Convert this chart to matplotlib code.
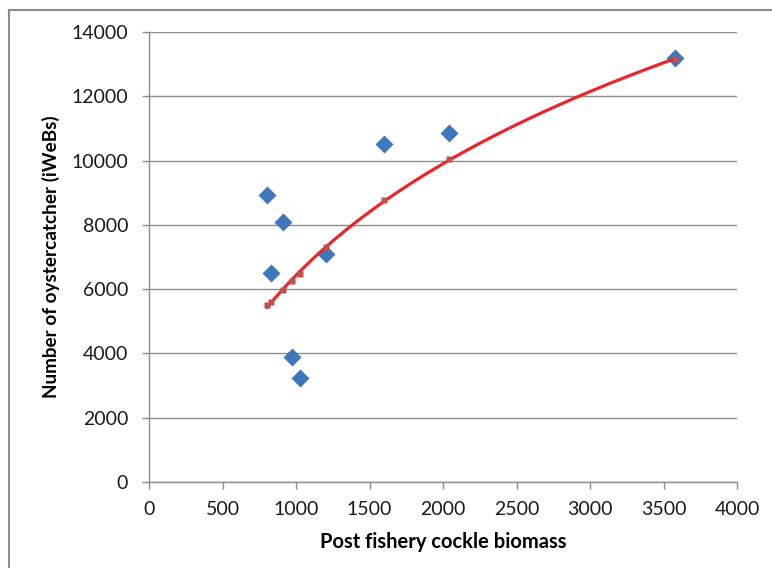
import numpy as np
import matplotlib
matplotlib.use("Agg")
import matplotlib.pyplot as plt
from matplotlib.lines import Line2D

# Data
biomass = [803, 830, 912, 973, 1027, 1204, 1599, 2041, 3578]
oystercatchers = [8930, 6500, 8100, 3900, 3250, 7100, 10500, 10850, 13200]
# fitted (model) values, red series
fitted = [5500, 5600, 5980, 6260, 6480, 7300, 8760, 10060, 13150]

x_ticks = [0, 500, 1000, 1500, 2000, 2500, 3000, 3500, 4000]
y_ticks = [0, 2000, 4000, 6000, 8000, 10000, 12000, 14000]

plt.rcParams['font.family'] = ['Lato', 'DejaVu Sans']

fig = plt.figure(figsize=(7.72, 5.68), dpi=100)
ax = fig.add_axes([149/772, 1-482/568, (737-149)/772, (482-32)/568])

ax.set_xlim(0, 4000)
ax.set_ylim(0, 14000)

# Smooth trend curve through the fitted series (quadratic in ln x)
px = np.array(biomass, dtype=float)
py = np.array(fitted, dtype=float)
coef = np.polyfit(np.log(px), py, 2)
xc = np.linspace(px.min(), px.max(), 300)
ax.plot(xc, np.polyval(coef, np.log(xc)), color='#E8262B', lw=2.3,
        solid_capstyle='round', zorder=3)
ax.plot(px, py, ls='none', marker='s', ms=4.5, color='#C0504D', mec='none', zorder=4)

ax.plot(biomass, oystercatchers, ls='none', marker='D', ms=9.3, color='#3F77BA', mec='none', zorder=2)

ax.set_xticks(x_ticks)
ax.set_yticks(y_ticks)
ax.set_xticklabels([str(v) for v in x_ticks])
ax.set_yticklabels([str(v) for v in y_ticks])
ax.grid(axis='y', color='#8C8C8C', lw=1.0)
ax.set_axisbelow(True)
for s in ['top', 'right']:
    ax.spines[s].set_visible(False)
for s in ['left', 'bottom']:
    ax.spines[s].set_color('#8C8C8C')
    ax.spines[s].set_linewidth(1.0)
ax.tick_params(axis='both', colors='#8C8C8C', labelcolor='#1A1A1A', labelsize=14, length=5, width=1.0, direction='out')
ax.tick_params(axis='x', pad=9)
ax.tick_params(axis='y', pad=10)

ax.set_xlabel('Post fishery cockle biomass', fontsize=14.5, fontweight='bold', labelpad=10)
ax.set_ylabel('Number of oystercatcher (iWeBs)', fontsize=13.6, fontweight='bold', labelpad=8)

# outer frame (top and left edges visible)
fig.add_artist(Line2D([9/772, 1], [1-10/568, 1-10/568], transform=fig.transFigure, color='#8C8C8C', lw=1.5))
fig.add_artist(Line2D([9/772, 9/772], [0, 1-10/568], transform=fig.transFigure, color='#8C8C8C', lw=1.5))

fig.savefig('out.png', dpi=100)
